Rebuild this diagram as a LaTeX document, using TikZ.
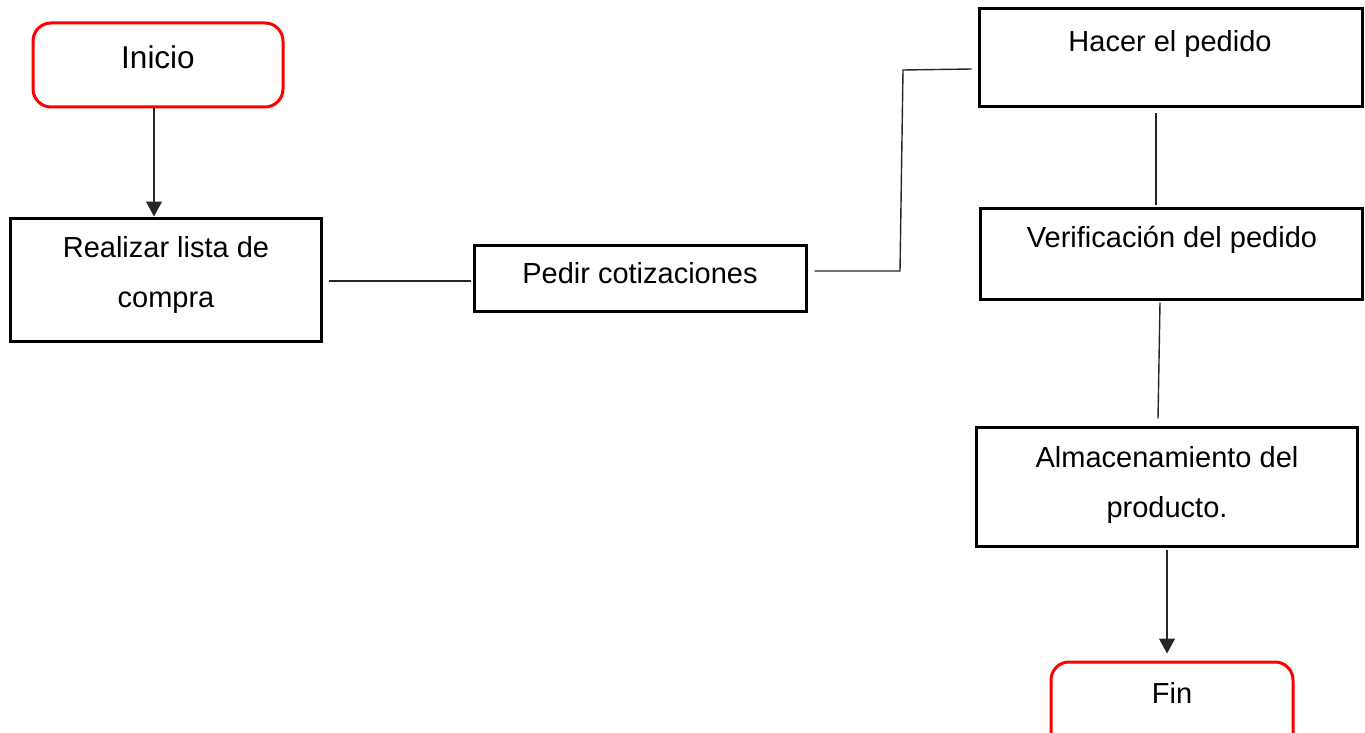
\documentclass[tikz,border=0pt]{standalone}
\usepackage{fontspec}
\setmainfont{Liberation Sans}
\usetikzlibrary{arrows.meta,calc}
\tikzset{
  box/.style={draw=black, line width=3pt, inner sep=0pt},
  term/.style={draw=red, line width=3pt, rounded corners=18pt, inner sep=0pt},
  txt/.style={font=\fontsize{29}{50}\selectfont, align=center, inner sep=0pt},
  conn/.style={draw=black!85, line width=1.4pt},
  arr/.style={conn, -{Triangle[width=16pt,length=15pt]}}
}
\begin{document}
\begin{tikzpicture}[x=1pt,y=-1pt]
\useasboundingbox (0,0) rectangle (1365,733);
% boxes
\node[term, minimum width=250pt, minimum height=84pt] (inicio) at (158,65) {};
\node[box, minimum width=311pt, minimum height=123pt] (realizar) at (165.5,279.5) {};
\node[box, minimum width=332pt, minimum height=66pt] (pedir) at (640,278) {};
\node[box, minimum width=383pt, minimum height=98pt] (hacer) at (1170.5,58) {};
\node[box, minimum width=382pt, minimum height=91pt] (verif) at (1171,253.5) {};
\node[box, minimum width=381pt, minimum height=119pt] (almac) at (1166.5,486.5) {};
\node[term, minimum width=242pt, minimum height=90pt] (fin) at (1172,707) {};
% texts
\node[txt, font=\fontsize{31.5}{50}\selectfont] (tinicio) at (158,57) {Inicio};
\node[txt] (trealizar) at (166,275) {Realizar lista de\\compra};
\node[txt] (tpedir) at (640,273) {Pedir cotizaciones};
\node[txt] (thacer) at (1170,44) {Hacer el pedido};
\node[txt] (tverif) at (1172,240) {Verificación del pedido};
\node[txt] (talmac) at (1167,485) {Almacenamiento del\\producto.};
\node[txt] (tfin) at (1172,693) {Fin};
% connectors
\draw[arr] ([xshift=-4pt]inicio.south) -- ([xshift=-11.5pt]realizar.north);
\coordinate (r1) at ([xshift=6pt,yshift=-1.5pt]realizar.east);
\coordinate (r2) at ([xshift=-2pt]pedir.west);
\draw[conn] (r1) -- (r1 -| r2);
\coordinate (p1) at ([xshift=7pt,yshift=7pt]pedir.east);
\coordinate (p2) at (900,271);
\coordinate (p3) at (903,70);
\coordinate (h1) at ([xshift=-6pt,yshift=-11pt]hacer.west);
\draw[conn] (p1) -- (p2) -- (p3) -- (h1);
\draw[conn] ([xshift=-14.5pt,yshift=-5pt]hacer.south) -- ([xshift=-15pt,yshift=2pt]verif.north);
\draw[conn] ([xshift=-11pt,yshift=-2pt]verif.south) -- ([xshift=-8.5pt,yshift=7pt]almac.north);
\draw[arr] ([xshift=0.5pt,yshift=-2pt]almac.south) -- ([xshift=-5pt,yshift=7pt]fin.north);
\end{tikzpicture}
\end{document}
